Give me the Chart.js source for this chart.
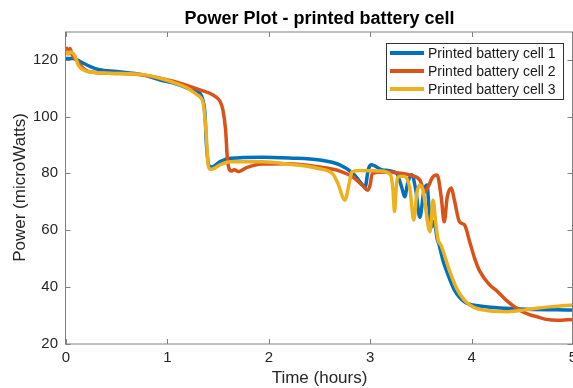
<!DOCTYPE html>
<html>
<head>
<meta charset="utf-8">
<script src="https://cdn.jsdelivr.net/npm/chart.js@4.4.0/dist/chart.umd.min.js"></script>
<style>
html, body { margin: 0; padding: 0; background: #fff; }
#wrap { width: 573px; height: 388px; position: relative; }
</style>
</head>
<body>
<div id="wrap"><canvas id="power-chart"></canvas></div>
<script>
// --- Data ---
const chartTitle = 'Power Plot - printed battery cell';
const seriesLabels = ['Printed battery cell 1', 'Printed battery cell 2', 'Printed battery cell 3'];
const xTicks = [0, 1, 2, 3, 4, 5];
const yTicks = [20, 40, 60, 80, 100, 120];

const cell1Time  = [0, 0.07, 0.14, 0.24, 0.33, 0.5, 0.76, 0.93, 1.09, 1.2, 1.32, 1.35, 1.37, 1.386, 1.412, 1.436, 1.52, 1.62, 1.94, 2.2, 2.5, 2.7, 2.83, 2.9, 2.95, 2.98, 3.01, 3.12, 3.26, 3.31, 3.34, 3.37, 3.41, 3.45, 3.49, 3.53, 3.56, 3.58, 3.605, 3.63, 3.66, 3.68, 3.72, 3.75, 3.83, 3.93, 4.08, 4.34, 4.54, 5.0];
const cell1Power = [120.5, 120.5, 119.4, 117.6, 116.5, 115.9, 114.7, 112.9, 111.5, 110, 108.3, 105.9, 101.3, 89.4, 82.6, 82.2, 84.1, 85.3, 85.7, 85.4, 84.7, 83, 80, 77, 75.2, 81.2, 83, 81.2, 80, 75.2, 71.7, 76.6, 79.5, 74, 64.5, 74, 75.9, 68, 61, 63, 57, 54.7, 49, 45.9, 38.9, 34.7, 33.2, 32.4, 32.1, 31.8];

const cell2Time  = [0, 0.02, 0.04, 0.06, 0.1, 0.17, 0.22, 0.43, 0.76, 0.93, 1.1, 1.32, 1.45, 1.52, 1.547, 1.574, 1.59, 1.606, 1.632, 1.66, 1.7, 1.78, 1.93, 2.2, 2.5, 2.7, 2.83, 2.93, 2.975, 3.0, 3.02, 3.15, 3.3, 3.39, 3.49, 3.54, 3.57, 3.62, 3.66, 3.7, 3.73, 3.76, 3.8, 3.83, 3.88, 3.93, 3.98, 4.03, 4.08, 4.18, 4.25, 4.34, 4.47, 4.57, 4.64, 4.74, 4.84, 5.0];
const cell2Power = [124.5, 123, 124, 121.8, 120, 117, 115.9, 115.3, 114.7, 113.5, 112, 109.4, 107.6, 105.3, 102.4, 95.3, 85.9, 81.9, 80.8, 81.3, 80.6, 82, 83.3, 83.4, 82.2, 80.8, 78.7, 75.5, 74, 76, 80, 80.5, 80, 79.4, 77.6, 73.4, 75.2, 78.8, 79.4, 71.7, 62.9, 71.7, 74.8, 70.6, 62.9, 61.8, 56, 50, 45.5, 40.6, 38.5, 35.3, 31.8, 30.2, 29.5, 28.5, 28.2, 28.5];

const cell3Time  = [0, 0.02, 0.04, 0.07, 0.09, 0.12, 0.17, 0.24, 0.43, 0.76, 0.93, 1.1, 1.2, 1.3, 1.32, 1.356, 1.38, 1.4, 1.42, 1.45, 1.52, 1.62, 1.94, 2.2, 2.5, 2.63, 2.68, 2.75, 2.8, 2.82, 2.9, 3.1, 3.2, 3.225, 3.24, 3.255, 3.27, 3.33, 3.39, 3.43, 3.46, 3.49, 3.52, 3.59, 3.62, 3.65, 3.67, 3.7, 3.78, 3.86, 3.98, 4.15, 4.34, 4.47, 4.64, 4.8, 5.0];
const cell3Power = [123, 122, 122.8, 122.2, 121.2, 118.2, 116.5, 115.7, 115.3, 114.8, 113.5, 111.5, 110, 107.5, 107, 104.1, 95.3, 83.6, 81.4, 81.6, 83, 84.1, 84.1, 83.2, 81.6, 79.8, 76.6, 70.6, 77.7, 80.5, 81, 80.8, 79.5, 74, 66.5, 74, 78.7, 79, 75, 63.5, 73, 75.9, 74.1, 59.4, 70.6, 61.2, 56.5, 54.5, 45.9, 38.9, 33.6, 31.6, 31.2, 31.6, 32.4, 33, 33.6];

const seriesColors = ['#0072BD', '#D95319', '#EDB120'];
const FONT = '"Liberation Sans", Arial, Helvetica, sans-serif';
const TEXT = '#262626';
const AXIS = '#808080';

function toPoints(times, values) {
    return times.map((t, i) => ({ x: t, y: values[i] }));
}

// box, inward ticks, title and legend in the MATLAB style
const matlabFrame = {
    id: 'matlabFrame',
    afterDraw(chart) {
        const { ctx, chartArea: a, scales: { x, y } } = chart;
        const L = Math.round(a.left) - 0.5, R = Math.round(a.right) - 0.5;
        const T = Math.round(a.top) - 0.5 + 0.5, B = Math.round(a.bottom) - 0.5 + 0.5;
        ctx.save();
        ctx.strokeStyle = AXIS;
        ctx.lineWidth = 1;
        ctx.strokeRect(L, T, R - L, B - T);
        ctx.beginPath();
        xTicks.forEach(v => {
            const px = Math.round(x.getPixelForValue(v)) + 0.5;
            ctx.moveTo(px, B); ctx.lineTo(px, B - 5);
            ctx.moveTo(px, T); ctx.lineTo(px, T + 5);
        });
        yTicks.forEach(v => {
            const py = Math.round(y.getPixelForValue(v)) + 0.5;
            ctx.moveTo(L, py); ctx.lineTo(L + 5, py);
            ctx.moveTo(R, py); ctx.lineTo(R - 5, py);
        });
        ctx.stroke();

        // title
        ctx.fillStyle = '#000';
        ctx.font = 'bold 18px ' + FONT;
        ctx.textAlign = 'center';
        ctx.textBaseline = 'middle';
        ctx.fillText(chartTitle, (a.left + a.right) / 2, 19);

        // legend
        const bx = a.right - 187, by = a.top + 11.5, bw = 177, bh = 56;
        ctx.fillStyle = '#fff';
        ctx.fillRect(bx, by, bw, bh);
        ctx.strokeStyle = '#333';
        ctx.strokeRect(Math.round(bx) + 0.5, Math.round(by) + 0.5, bw, bh);
        ctx.font = '14px ' + FONT;
        ctx.textAlign = 'left';
        chart.data.datasets.forEach((ds, i) => {
            const ly = by + 10 + i * 18;
            ctx.strokeStyle = ds.borderColor;
            ctx.lineWidth = 4;
            ctx.beginPath();
            ctx.moveTo(bx + 4, ly); ctx.lineTo(bx + 38, ly);
            ctx.stroke();
            ctx.fillStyle = '#1a1a1a';
            ctx.fillText(ds.label, bx + 42, ly + 1);
        });
        ctx.restore();
    }
};

const ctx = document.getElementById('power-chart').getContext('2d');
const datasetOrders = [3, 2, 1]; // later cells drawn on top
const allTimes = [cell1Time, cell2Time, cell3Time];
const allPower = [cell1Power, cell2Power, cell3Power];

new Chart(ctx, {
    type: 'line',
    data: {
        datasets: seriesLabels.map((label, i) => ({
            label: label,
            data: toPoints(allTimes[i], allPower[i]),
            borderColor: seriesColors[i],
            backgroundColor: seriesColors[i],
            borderWidth: 3.5,
            pointRadius: 0,
            cubicInterpolationMode: 'monotone',
            order: datasetOrders[i],
            fill: false
        }))
    },
    options: {
        responsive: true,
        maintainAspectRatio: false,
        animation: false,
        layout: { padding: { top: 31.5, right: 0, bottom: 0, left: 0 } },
        plugins: {
            legend: { display: false },
            title: { display: false },
            tooltip: { enabled: false }
        },
        scales: {
            x: {
                type: 'linear',
                min: 0,
                max: 5,
                afterBuildTicks: s => { s.ticks = xTicks.map(v => ({ value: v })); },
                afterFit: s => { s.height = 44.5; s.paddingLeft = 0; s.paddingRight = 0; },
                grid: { display: false, drawTicks: false },
                border: { display: false },
                ticks: { color: TEXT, font: { family: FONT, size: 15 }, padding: 5, maxRotation: 0, autoSkip: false },
                title: { display: true, text: 'Time (hours)', color: TEXT, font: { family: FONT, size: 17, lineHeight: 1.1 }, padding: { top: 0, bottom: 0 } }
            },
            y: {
                min: 20,
                max: 130,
                afterBuildTicks: s => { s.ticks = yTicks.map(v => ({ value: v })); },
                afterFit: s => { s.width = 66; s.paddingTop = 0; s.paddingBottom = 0; },
                grid: { display: false, drawTicks: false },
                border: { display: false },
                ticks: { color: TEXT, font: { family: FONT, size: 15 }, padding: 8 },
                title: { display: true, text: 'Power (microWatts)', color: TEXT, font: { family: FONT, size: 17, lineHeight: 1.1 }, padding: { top: 11, bottom: 0 } }
            }
        }
    },
    plugins: [matlabFrame]
});
</script>
</body>
</html>
